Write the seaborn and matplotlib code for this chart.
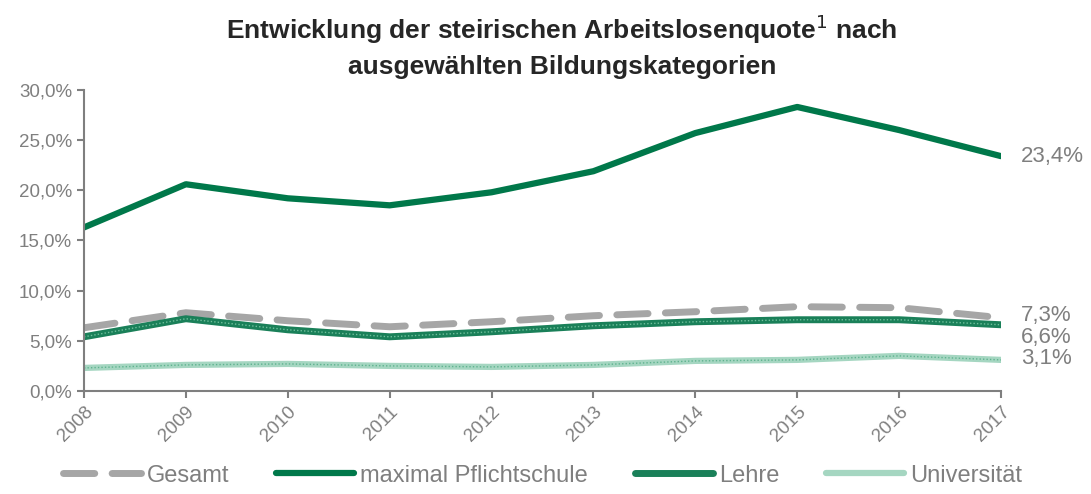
import pandas as pd
import numpy as np
import matplotlib.pyplot as plt
import seaborn as sns
from matplotlib.ticker import FuncFormatter

# -----------------------------
# DATA
# -----------------------------

years = [2008, 2009, 2010, 2011, 2012, 2013, 2014, 2015, 2016, 2017]

gesamt = [6.3, 7.8, 7.0, 6.4, 6.9, 7.5, 7.9, 8.4, 8.3, 7.3]
pflichtschule = [16.3, 20.6, 19.2, 18.5, 19.8, 21.9, 25.7, 28.3, 26.0, 23.4]
lehre = [5.4, 7.2, 6.1, 5.4, 5.9, 6.5, 6.9, 7.1, 7.1, 6.6]
universitaet = [2.3, 2.6, 2.7, 2.5, 2.4, 2.6, 3.0, 3.1, 3.5, 3.1]

end_labels = ["23,4%", "7,3%", "6,6%", "3,1%"]

# -----------------------------
# STYLE
# -----------------------------

sns.set_style("white")
plt.rcParams['font.family'] = ['Liberation Sans Narrow', 'Liberation Sans', 'DejaVu Sans']

grey = "#7f7f7f"

fig = plt.figure(figsize=(10.91, 4.94), dpi=100)
ax = fig.add_axes([0.077, 0.2085, 0.8405, 0.6095])

sns.lineplot(x=years, y=gesamt, ax=ax, color="#a6a6a6", linewidth=5,
             label="Gesamt")
ax.lines[-1].set_dashes([4.5, 2.5])
ax.lines[-1].set_solid_capstyle("round")
ax.lines[-1].set_dash_capstyle("round")

sns.lineplot(x=years, y=pflichtschule, ax=ax, color="#00784a", linewidth=4.5,
             label="maximal Pflichtschule")

sns.lineplot(x=years, y=lehre, ax=ax, color="#1a8059", linewidth=5,
             label="Lehre")
sns.lineplot(x=years, y=lehre, ax=ax, color="#6fbf9b", linewidth=1,
             linestyle=(0, (1, 1.5)))

sns.lineplot(x=years, y=universitaet, ax=ax, color="#a5d6c1", linewidth=4.5,
             label="Universität")
sns.lineplot(x=years, y=universitaet, ax=ax, color="#5fb38f", linewidth=1,
             linestyle=(0, (1, 1.5)))

# -----------------------------
# AXES
# -----------------------------

ax.set_xlim(2008, 2017)
ax.set_ylim(0, 30)
ax.set_yticks(np.arange(0, 31, 5))
ax.yaxis.set_major_formatter(
    FuncFormatter(lambda v, p: f"{v:.1f}%".replace(".", ","))
)
ax.set_xticks(years)
ax.set_xticklabels([str(y) for y in years], rotation=45, ha="right",
                   rotation_mode="anchor")

for s in ["top", "right"]:
    ax.spines[s].set_visible(False)
for s in ["left", "bottom"]:
    ax.spines[s].set_color(grey)
    ax.spines[s].set_linewidth(1.5)

ax.tick_params(axis="both", colors=grey, labelsize=13.5, length=5,
               width=1.5, direction="out", left=True, bottom=True)

# end labels
end_vals = [pflichtschule[-1], 7.5, 5.3, 3.2]
for txt, yv in zip(end_labels, end_vals):
    ax.text(2017.2, yv, txt, color=grey, fontsize=16, va="center",
            ha="left", clip_on=False)

# title
fig.suptitle(
    "Entwicklung der steirischen Arbeitslosenquote$^{1}$ nach\n"
    "ausgewählten Bildungskategorien",
    fontsize=19, fontweight="bold", y=0.975, linespacing=1.5,
    x=0.515
)

# legend
handles, labels = ax.get_legend_handles_labels()
ax.legend(handles, labels, loc="upper center", bbox_to_anchor=(0.5, -0.205),
          ncol=4, frameon=False, fontsize=17, labelcolor=grey,
          handlelength=3.3, handletextpad=0.25, columnspacing=2.0,
          borderaxespad=0.1)

plt.savefig("out.png", dpi=100)
